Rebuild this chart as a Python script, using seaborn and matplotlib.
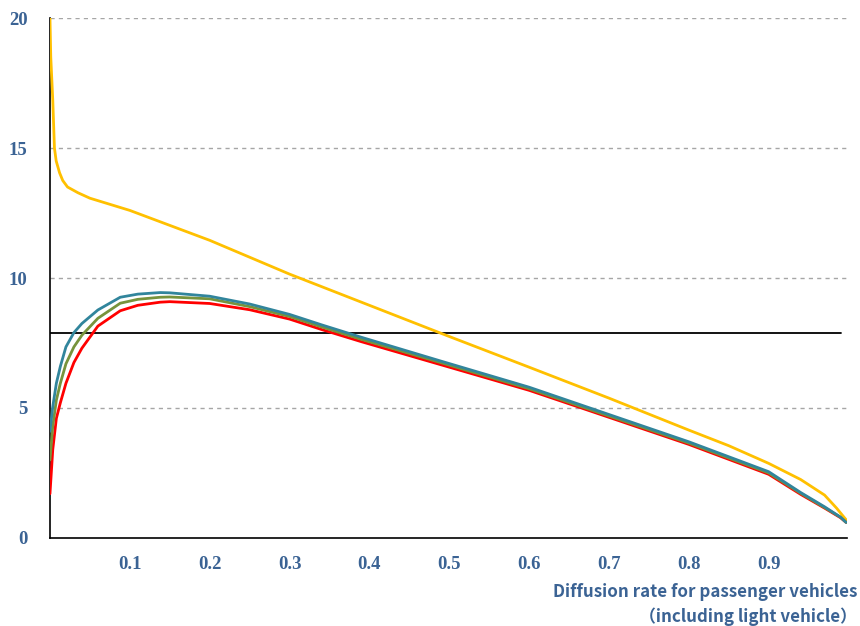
import matplotlib
matplotlib.use("Agg")
import matplotlib.pyplot as plt
import seaborn as sns

x_main = [0, 0.0035, 0.008, 0.013, 0.02, 0.03, 0.04, 0.06, 0.088, 0.11, 0.138, 0.15,
          0.2, 0.25, 0.3, 0.34, 0.39, 0.49, 0.6, 0.68, 0.8, 0.9, 0.94, 0.97, 0.99, 0.997]
teal = [4.1, 5.05, 5.95, 6.6, 7.35, 7.9, 8.25, 8.77, 9.26, 9.38, 9.44, 9.43,
        9.3, 9.0, 8.6, 8.2, 7.72, 6.8, 5.8, 4.96, 3.7, 2.55, 1.75, 1.2, 0.8, 0.6]
green = [3.0, 4.3, 5.3, 5.95, 6.7, 7.35, 7.8, 8.45, 9.03, 9.18, 9.26, 9.27,
         9.2, 8.9, 8.52, 8.12, 7.64, 6.74, 5.74, 4.9, 3.65, 2.5, 1.72, 1.17, 0.8, 0.6]
red = [1.7, 3.4, 4.6, 5.2, 5.95, 6.75, 7.3, 8.15, 8.74, 8.95, 9.07, 9.09,
       9.02, 8.78, 8.42, 8.02, 7.55, 6.66, 5.68, 4.85, 3.6, 2.45, 1.68, 1.15, 0.78, 0.6]

x_yellow = [0, 0.001, 0.0035, 0.0056, 0.0078, 0.012, 0.016, 0.022, 0.035, 0.05, 0.1, 0.2,
            0.3, 0.4, 0.5, 0.6, 0.7, 0.8, 0.85, 0.9, 0.94, 0.97, 0.985, 0.997]
yellow = [20, 18.5, 16.85, 15.0, 14.5, 14.05, 13.75, 13.5, 13.28, 13.07, 12.6, 11.45,
          10.15, 8.95, 7.75, 6.57, 5.38, 4.15, 3.55, 2.87, 2.25, 1.65, 1.15, 0.7]

threshold = 7.9
x_ticks = [0, 0.1, 0.2, 0.3, 0.4, 0.5, 0.6, 0.7, 0.8, 0.9]
x_ticklabels = ["", "0.1", "0.2", "0.3", "0.4", "0.5", "0.6", "0.7", "0.8", "0.9"]
y_ticks = [0, 5, 10, 15, 20]

label_blue = "#3b6394"

sns.set_style("white")
fig = plt.figure(figsize=(8.6, 6.26), dpi=100)
ax = fig.add_axes([0.0581, 0.1406, 0.9267, 0.8306])

for yv in y_ticks[1:]:
    ax.axhline(yv, color="#a6a6a6", linestyle=(0, (3, 3)), linewidth=1.0, zorder=0)

ax.axhline(threshold, color="black", linewidth=1.3, xmax=0.993, zorder=1)

sns.lineplot(x=x_yellow, y=yellow, ax=ax, color="#ffc000", linewidth=2.0, zorder=3)
sns.lineplot(x=x_main, y=red, ax=ax, color="#ff0000", linewidth=2.0, zorder=3)
sns.lineplot(x=x_main, y=green, ax=ax, color="#77933c", linewidth=2.0, zorder=4)
sns.lineplot(x=x_main, y=teal, ax=ax, color="#31859c", linewidth=2.0, zorder=5)

ax.set_xlim(0, 0.998)
ax.set_ylim(0, 20)
ax.set_xticks(x_ticks)
ax.set_xticklabels(x_ticklabels)
ax.set_yticks(y_ticks)

for s in ["top", "right"]:
    ax.spines[s].set_visible(False)
for s in ["left", "bottom"]:
    ax.spines[s].set_color("black")
    ax.spines[s].set_linewidth(1.2)

ax.tick_params(axis="both", direction="out", length=5, width=1, color="black",
               labelcolor=label_blue)
ax.tick_params(axis="y", pad=11)
ax.tick_params(axis="x", pad=8)
for lab in ax.get_xticklabels() + ax.get_yticklabels():
    lab.set_family("Liberation Serif")
    lab.set_fontweight("bold")
    lab.set_fontsize(13.5)

fig.text(0.997, 0.0343, "Diffusion rate for passenger vehicles\n（including light vehicle）",
         ha="right", va="center", color=label_blue, fontsize=12.2, fontweight="bold",
         family=["Noto Sans CJK JP", "DejaVu Sans"], linespacing=1.48)

fig.savefig("out.png", dpi=100)
